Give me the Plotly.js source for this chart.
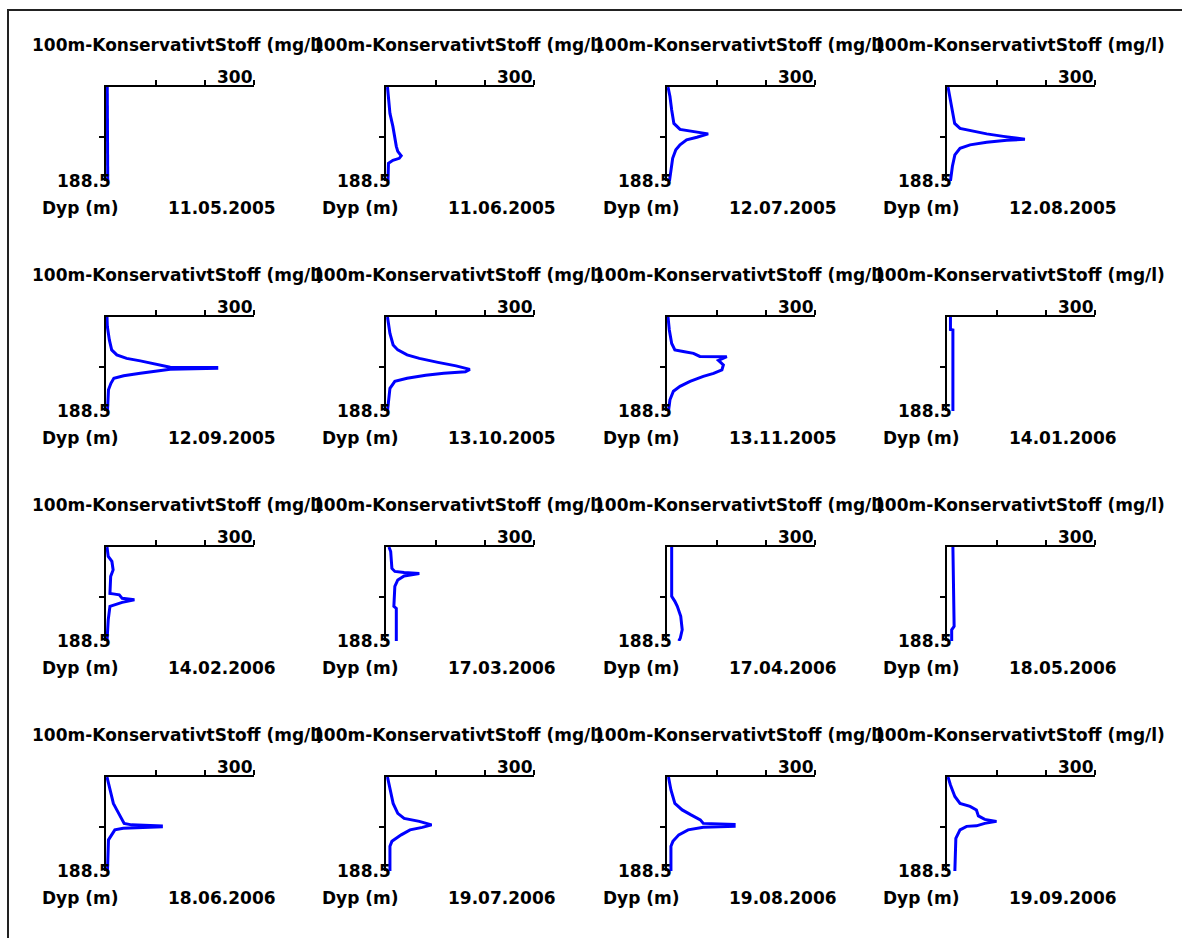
<!DOCTYPE html>
<html>
<head>
<meta charset="utf-8">
<script src="https://cdn.plot.ly/plotly-3.0.1.min.js"></script>
<style>html,body{margin:0;padding:0;background:#fff;}#chart{width:1182px;height:938px;}</style>
</head>
<body>
<div id="chart"></div>
<script>
// ---- data ----
const panelTitle = '100m-KonservativtStoff (mg/l)';
const depthLabel = 'Dyp (m)';
const maxDepthLabel = '188.5';
const xTickVals = [100, 200, 300];
const xTickLabel = '300';
const yTickVals = [100];
const dates = ['11.05.2005','11.06.2005','12.07.2005','12.08.2005',
               '12.09.2005','13.10.2005','13.11.2005','14.01.2006',
               '14.02.2006','17.03.2006','17.04.2006','18.05.2006',
               '18.06.2006','19.07.2006','19.08.2006','19.09.2006'];

const depth_1 = [0,40,80,120,160,188.5];
const conc_1  = [0.5,0.5,1,1,1.5,1.5];
const depth_2 = [0,53,79,103,119,129,138,143,147,153,188.5];
const conc_2  = [1,6,12,16,19,22,29,25,12,3,2];
const depth_3 = [0,19,46,73,85,89,91,94,100.7,106,116,126,143,159,176,188.5];
const conc_3  = [0,4,7.5,12,24.5,52,59,82,59,38,24.5,16,9.5,7.5,4,3];
const depth_4 = [0,26,53,73,83,89,94,99,104.7,107,111,116,123,136,159,188.5];
const conc_4  = [0,4.8,9,13.6,24.5,52,79,113,157,120,79,45,24.5,14,9,5];
const depth_5 = [0,19,46,66,76,83,88,93,98,100.7,101.5,103,104.7,109,113,118,123,133,146,188.5];
const conc_5  = [0,0.7,4.8,9.5,20,40,68,95,116,129,224,224,129,102,68,34,14,8,3,1];
const depth_6 = [0,33,56,66,76,83,91,98,105,110,113,117,123,129,143,188.5];
const conc_6  = [1,6,12.5,22,41,66,104,141,169,160,116,79,41,16,6,1];
const depth_7 = [0,26,53,66,69,73,79,79.5,87,96,106,113,119,129,139,149,166,188.5];
const conc_7  = [0,2.7,7.5,14,31,52,65,120,103,113,110,93,72,45,24.5,11,4,1];
const depth_8 = [0,25,26,188.5];
const conc_8  = [5,5,10,10];
const depth_9 = [0,19,29,46,59,93,94,96,103,106,111,116,119,146,188.5];
const conc_9  = [0,2.5,10,12.5,7.5,6,12.5,25,31,56,31,12.5,6,2.5,0];
const depth_10 = [0,9,43,49,51,53,58,66,79,119,123,188.5];
const conc_10  = [4,7.5,10,16,35,66,35,22,16,14,19,19];
const depth_11 = [0,99,109,119,139,166,183,188.5];
const conc_11  = [7.5,7.5,14,19,26,29,25,22];
const depth_12 = [0,159,166,188.5];
const conc_12  = [10,12.5,7.5,7.5];
const depth_13 = [0,13,33,53,66,76,86,93,96,98,100,103,106,116,126,188.5];
const conc_13  = [0,3,7.5,13,20,25,30,35,50,111,111,33,16,10,3,1];
const depth_14 = [0,26,53,73,83,89,96,101,106,116,129,139,188.5];
const conc_14  = [1,6,12.5,22,35,66,91,72,47,29,10,6,6];
const depth_15 = [0,26,53,66,76,86,93,95,99,101,106,116,129,139,188.5];
const conc_15  = [1,6,14,29,47,66,72,135,135,72,41,22,10,6,6];
const depth_16 = [0,16,39,53,59,66,78,85,89,93,98,99,106,123,188.5];
const conc_16  = [0,5,14,24.5,45,58,62,75,99,75,58,38,24.5,16,14];

const depths = [depth_1,depth_2,depth_3,depth_4,depth_5,depth_6,depth_7,depth_8,
                depth_9,depth_10,depth_11,depth_12,depth_13,depth_14,depth_15,depth_16];
const concs  = [conc_1,conc_2,conc_3,conc_4,conc_5,conc_6,conc_7,conc_8,
                conc_9,conc_10,conc_11,conc_12,conc_13,conc_14,conc_15,conc_16];

// ---- layout geometry (pixels) ----
const W = 1182, H = 938;
const colX0 = [107, 387, 668, 948];
const rowY0 = [87, 317, 547, 777];
const plotW = 147, plotH = 94;
const px = v => v / W;
const py = v => 1 - v / H;

const font = {family: 'DejaVu Sans', size: 17, color: '#000', weight: 'bold'};

const data = [];
const layout = {
  width: W, height: H,
  margin: {l: 0, r: 0, t: 0, b: 0},
  paper_bgcolor: '#fff', plot_bgcolor: 'rgba(0,0,0,0)',
  showlegend: false,
  annotations: [],
  shapes: [{type: 'rect', xref: 'paper', yref: 'paper',
            x0: px(8), x1: 1.02, y0: -0.02, y1: py(10),
            line: {color: '#222', width: 2}}]
};

for (let i = 0; i < 16; i++) {
  const r = Math.floor(i / 4), c = i % 4;
  const n = i + 1;
  const x0 = colX0[c], y0 = rowY0[r];
  const xs = n === 1 ? '' : String(n);
  data.push({
    type: 'scatter', mode: 'lines',
    x: concs[i], y: depths[i],
    xaxis: 'x' + xs, yaxis: 'y' + xs,
    line: {color: '#0000ff', width: 3},
    hoverinfo: 'skip'
  });
  const pxPerUnit = plotW / 300;
  layout['xaxis' + xs] = {
    domain: [px(x0 - 2 * pxPerUnit), px(x0 + plotW)],
    range: [-2, 300],
    anchor: 'y' + xs, side: 'top',
    showline: true, linecolor: '#000', linewidth: 2,
    ticks: 'outside', ticklen: 5, tickwidth: 2, tickcolor: '#000',
    tickmode: 'array', tickvals: xTickVals, showticklabels: false,
    showgrid: false, zeroline: false, fixedrange: true, layer: 'below traces'
  };
  const pxPerM = plotH / 188.5;
  layout['yaxis' + xs] = {
    domain: [py(y0 + plotH), py(y0 - 1 * pxPerM)],
    range: [188.5, -1],
    anchor: 'x' + xs,
    showline: true, linecolor: '#000', linewidth: 2,
    ticks: 'outside', ticklen: 5, tickwidth: 2, tickcolor: '#000',
    tickmode: 'array', tickvals: yTickVals, showticklabels: false,
    showgrid: false, zeroline: false, fixedrange: true, layer: 'below traces'
  };
  const A = layout.annotations;
  A.push({xref: 'paper', yref: 'paper', x: px(x0 - 77), y: py(y0 - 42),
          xanchor: 'left', yanchor: 'middle', text: panelTitle, showarrow: false, font});
  A.push({xref: 'paper', yref: 'paper', x: px(x0 + plotW + 1), y: py(y0 - 10),
          xanchor: 'right', yanchor: 'middle', text: xTickLabel, showarrow: false, font});
  A.push({xref: 'paper', yref: 'paper', x: px(x0 + 6), y: py(y0 + 94),
          xanchor: 'right', yanchor: 'middle', text: maxDepthLabel, showarrow: false, font});
  A.push({xref: 'paper', yref: 'paper', x: px(x0 - 67), y: py(y0 + 121),
          xanchor: 'left', yanchor: 'middle', text: depthLabel, showarrow: false, font});
  A.push({xref: 'paper', yref: 'paper', x: px(x0 + 171), y: py(y0 + 121),
          xanchor: 'right', yanchor: 'middle', text: dates[i], showarrow: false, font});
}

Plotly.newPlot('chart', data, layout, {displayModeBar: false, staticPlot: true});
</script>
</body>
</html>
